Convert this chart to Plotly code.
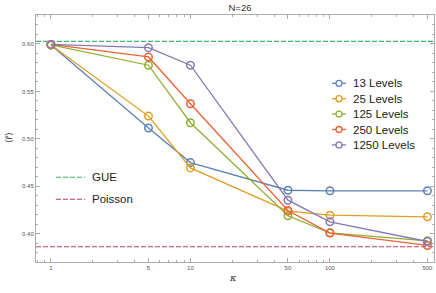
import plotly.graph_objects as go

kappa = [1, 5, 10, 50, 100, 500]
series_names = ["13 Levels", "25 Levels", "125 Levels", "250 Levels", "1250 Levels"]
r_13 = [0.599, 0.5115, 0.475, 0.4459, 0.4453, 0.4453]
r_25 = [0.599, 0.524, 0.4694, 0.4238, 0.4196, 0.4179]
r_125 = [0.599, 0.5776, 0.517, 0.419, 0.401, 0.3926]
r_250 = [0.5995, 0.5863, 0.537, 0.4245, 0.4008, 0.3877]
r_1250 = [0.5995, 0.5961, 0.5776, 0.4354, 0.4126, 0.3919]
series_values = [r_13, r_25, r_125, r_250, r_1250]
colors = ["#5E81B5", "#E19C24", "#8FB032", "#EB6235", "#8778B3"]

ref_names = ["GUE", "Poisson"]
ref_values = [0.6027, 0.3863]
ref_colors = ["#3dba6e", "#b83e68"]

X_LO, X_HI = 0.781, 557
Y_LO, Y_HI = 0.3703, 0.6305

x_ticks = [1, 5, 10, 50, 100, 500]
x_tick_labels = ["1", "5", "10", "50", "100", "500"]
y_ticks = [0.40, 0.45, 0.50, 0.55, 0.60]
y_tick_labels = ["0.40", "0.45", "0.50", "0.55", "0.60"]

x_minor = [0.8, 0.9, 2, 3, 4, 6, 7, 8, 9, 20, 30, 40, 60, 70, 80, 90, 200, 300, 400]
y_minor = [round(0.37 + 0.01 * i, 2) for i in range(27)]

# layout geometry (pixels)
W, H = 436, 293
ML, MR, MT, MB = 36, 2, 15, 31
PW, PH = W - ML - MR, H - MT - MB


def px_x(p):
    return (p - ML) / PW


def px_y(p):
    return (H - MB - p) / PH


fig = go.Figure()

for name, v, c in zip(ref_names, ref_values, ref_colors):
    fig.add_trace(go.Scatter(
        x=[X_LO, X_HI], y=[v, v], name=name, mode="lines", showlegend=False,
        line=dict(color=c, width=1.1, dash="5px,2px"),
    ))

for name, vals, c in zip(series_names, series_values, colors):
    fig.add_trace(go.Scatter(
        x=kappa, y=vals, name=name, mode="lines+markers", showlegend=False,
        line=dict(color=c, width=1.3),
        marker=dict(symbol="circle-open", size=7.5, color=c, line=dict(width=1.5)),
    ))

shapes = []
annotations = []
legend_font = dict(family="Liberation Sans", size=11.5, color="#222222")

# series legend
for i, (name, c) in enumerate(zip(series_names, colors)):
    yy = px_y(83.3 + 15.4 * i)
    shapes.append(dict(type="line", xref="paper", yref="paper",
                       x0=px_x(332), x1=px_x(346), y0=yy, y1=yy,
                       line=dict(color=c, width=1.3)))
    shapes.append(dict(type="circle", xref="paper", yref="paper",
                       xsizemode="pixel", ysizemode="pixel",
                       xanchor=px_x(339), yanchor=yy,
                       x0=-3, x1=3, y0=-3, y1=3,
                       fillcolor="white", line=dict(color=c, width=1.3)))
    annotations.append(dict(text=name, xref="paper", yref="paper",
                            x=px_x(351), y=yy, xanchor="left", yanchor="middle",
                            showarrow=False, font=legend_font))

# reference-line legend
for i, (name, c) in enumerate(zip(ref_names, ref_colors)):
    yy = px_y(177.3 + 22 * i)
    shapes.append(dict(type="line", xref="paper", yref="paper",
                       x0=px_x(56), x1=px_x(85), y0=yy, y1=yy,
                       line=dict(color=c, width=1.1, dash="5px,2px")))
    annotations.append(dict(text=name, xref="paper", yref="paper",
                            x=px_x(89.5), y=yy, xanchor="left", yanchor="middle",
                            showarrow=False, font=legend_font))

annotations.append(dict(text="<i>κ</i>", xref="paper", yref="paper", x=px_x(233), y=px_y(277),
                        xanchor="center", yanchor="middle", showarrow=False,
                        font=dict(family="DejaVu Serif", size=10, color="#333333")))
annotations.append(dict(text="⟨r̃⟩", xref="paper", yref="paper", x=px_x(9), y=px_y(138),
                        xanchor="center", yanchor="middle", textangle=-90, showarrow=False,
                        font=dict(family="DejaVu Sans", size=9, color="#333333")))

axis_common = dict(
    showline=True, linecolor="#aaaaaa", linewidth=1, mirror="allticks",
    ticks="inside", ticklen=4, tickcolor="#aaaaaa", tickwidth=0.8,
    showgrid=False, zeroline=False,
    tickfont=dict(family="Liberation Sans", size=6, color="#555555"),
)

fig.update_layout(
    width=W, height=H,
    margin=dict(l=ML, r=MR, t=MT, b=MB),
    paper_bgcolor="white", plot_bgcolor="white",
    showlegend=False,
    title=dict(text="N=26", xref="container", x=240 / W, xanchor="center",
               yref="container", y=1 - 7.5 / H, yanchor="middle",
               font=dict(family="Liberation Sans", size=9.5, color="#333333")),
    xaxis=dict(type="log", range=[-0.1073, 2.7459],
               tickmode="array", tickvals=x_ticks, ticktext=x_tick_labels,
               minor=dict(tickmode="array", tickvals=x_minor, ticks="inside",
                          ticklen=2, tickcolor="#aaaaaa"),
               **axis_common),
    yaxis=dict(range=[Y_LO, Y_HI],
               tickmode="array", tickvals=y_ticks, ticktext=y_tick_labels,
               minor=dict(tickmode="array", tickvals=y_minor, ticks="inside",
                          ticklen=2, tickcolor="#aaaaaa"),
               **axis_common),
    shapes=shapes,
    annotations=annotations,
)

fig.write_html("out.html", config={"displayModeBar": False},
               post_script="document.body.style.margin='0';")
